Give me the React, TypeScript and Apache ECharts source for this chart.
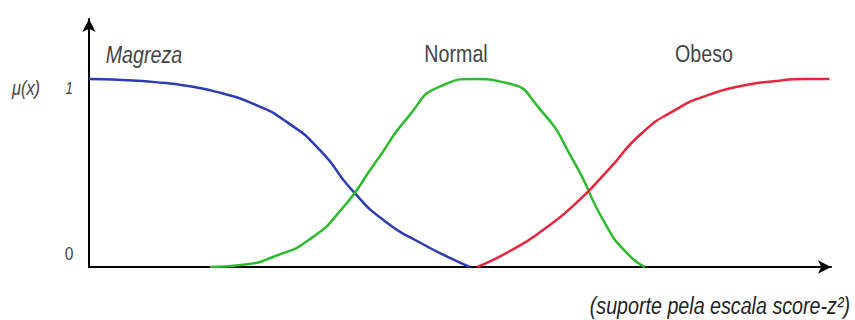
import React, { useEffect, useRef } from "react";
import * as echarts from "echarts";

// x: position on the score-z support (0..99.2), y: membership degree μ(x)
const magrezaX = [0, 4.41, 8.82, 13.24, 17.65, 22.06, 26.47, 30.88, 35.29, 39.71, 44.12, 48.53, 50.94];
const magrezaY = [1.0, 0.995, 0.984, 0.963, 0.926, 0.867, 0.771, 0.622, 0.404, 0.239, 0.133, 0.043, 0];

const normalX = [16.18, 20.59, 25.0, 29.41, 33.82, 38.24, 42.65, 47.06, 51.47, 55.88, 60.29, 64.71, 69.12, 71.93, 74.33];
const normalY = [0, 0.012, 0.06, 0.145, 0.31, 0.553, 0.798, 0.963, 1.0, 0.979, 0.84, 0.569, 0.223, 0.074, 0];

const obesoX = [51.87, 56.28, 60.7, 65.11, 69.52, 73.93, 78.34, 82.75, 87.17, 91.58, 95.99, 99.0];
const obesoY = [0, 0.085, 0.197, 0.34, 0.521, 0.713, 0.835, 0.915, 0.963, 0.989, 1.0, 1.0];

const seriesNames = ["Magreza", "Normal", "Obeso"];
const seriesColors = ["#2c3cb4", "#2dbb2d", "#e8243c"];
const yTickLabels = ["0", "1"];
const yAxisTitle = "μ(x)";
const xAxisTitle = "(suporte pela escala score-z²)";

const zip = (xs: number[], ys: number[]) => xs.map((x, i) => [x, ys[i]]);

const FONT = "'Liberation Sans', Arial, sans-serif";
const SQ = 0.82;

export default function App() {
  const ref = useRef<HTMLDivElement>(null);
  useEffect(() => {
    if (!ref.current) return;
    const chart = echarts.init(ref.current, null, { renderer: "svg" });
    const data = [zip(magrezaX, magrezaY), zip(normalX, normalY), zip(obesoX, obesoY)];
    const axisLine = {
      show: true,
      lineStyle: { color: "#000", width: 2 },
      symbol: ["none", "arrow"],
      symbolSize: [10, 13],
    };
    const txt = (text: string, x: number, y: number, size: number, italic: boolean, align = "center", fill = "#444") => ({
      type: "text",
      x,
      y,
      scaleX: SQ,
      style: { text, font: `${italic ? "italic " : ""}${size}px ${FONT}`, fill, align, verticalAlign: "middle" },
    });
    chart.setOption({
      animation: false,
      backgroundColor: "#fff",
      grid: { left: 89, right: 24, top: 19, bottom: 53 },
      xAxis: {
        type: "value",
        min: 0,
        max: 99.2,
        axisLine,
        axisTick: { show: false },
        axisLabel: { show: false },
        splitLine: { show: false },
      },
      yAxis: {
        type: "value",
        min: 0,
        max: 1.32,
        axisLine,
        axisTick: { show: false },
        axisLabel: { show: false },
        splitLine: { show: false },
      },
      series: seriesNames.map((name, i) => ({
        name,
        type: "line",
        data: data[i],
        smooth: 0.6,
        showSymbol: false,
        lineStyle: { color: seriesColors[i], width: 2.5 },
        z: 1,
      })),
      graphic: [
        txt(seriesNames[0], 144, 55, 24, true),
        txt(seriesNames[1], 456, 54, 24, false),
        txt(seriesNames[2], 704, 54, 24, false),
        txt(yAxisTitle, 26, 88, 20, true),
        txt(yTickLabels[1], 69, 88, 17, true),
        txt(yTickLabels[0], 69, 253, 19, false),
        txt(xAxisTitle, 850, 306, 24, true, "right", "#222"),
      ],
    });
    return () => chart.dispose();
  }, []);
  return (
    <div
      ref={ref}
      style={{ position: "fixed", left: 0, top: 0, width: 855, height: 320, background: "#fff" }}
    />
  );
}
